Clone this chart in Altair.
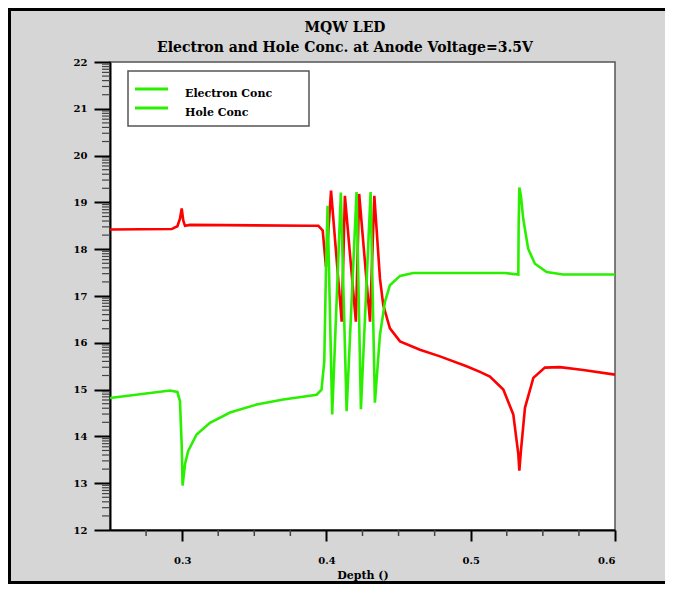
import math
import altair as alt
import pandas as pd

# ---- data ----
red_depth = [0.250, 0.2927, 0.2967, 0.2985, 0.2997, 0.3008, 0.3020, 0.3054, 0.3886, 0.3944,
             0.3974, 0.3997, 0.4032, 0.4106, 0.4128, 0.4204, 0.4227, 0.4302, 0.4332, 0.4371,
             0.4394, 0.4440, 0.4510, 0.4648, 0.4787, 0.4971, 0.5064, 0.5133, 0.5226, 0.5295,
             0.5330, 0.5337, 0.5348, 0.5376, 0.5434, 0.5514, 0.5618, 0.5780, 0.6000]
red_conc = [18.42, 18.43, 18.49, 18.65, 18.87, 18.61, 18.50, 18.52, 18.50, 18.50,
            18.40, 17.62, 19.25, 16.45, 19.14, 16.45, 19.18, 16.45, 19.14, 17.37,
            16.80, 16.31, 16.03, 15.85, 15.71, 15.50, 15.38, 15.28, 15.00, 14.47,
            13.62, 13.27, 13.69, 14.61, 15.25, 15.47, 15.48, 15.42, 15.32]

green_depth = [0.2500, 0.2916, 0.2967, 0.2985, 0.2997, 0.3003, 0.3020, 0.3042, 0.3100, 0.3193,
               0.3332, 0.3516, 0.3701, 0.3886, 0.3932, 0.3966, 0.3985, 0.3997, 0.4008, 0.4040,
               0.4100, 0.4140, 0.4209, 0.4239, 0.4306, 0.4336, 0.4371, 0.4406, 0.4440, 0.4510,
               0.4601, 0.5237, 0.5330, 0.5332, 0.5337, 0.5348, 0.5364, 0.5398, 0.5445, 0.5526,
               0.5641, 0.6000]
green_conc = [14.82, 14.98, 14.95, 14.75, 13.80, 12.95, 13.41, 13.69, 14.04, 14.29,
              14.51, 14.68, 14.79, 14.87, 14.89, 15.00, 15.60, 17.58, 18.93, 14.47,
              19.21, 14.54, 19.22, 14.58, 19.22, 14.72, 16.17, 16.88, 17.23, 17.43,
              17.49, 17.49, 17.46, 18.43, 19.32, 19.14, 18.65, 18.01, 17.69, 17.51,
              17.46, 17.46]

series_names = ["Hole Conc", "Electron Conc"]
series_colors = ["#ff0000", "#2af000"]
legend_labels = ["Electron Conc", "Hole Conc"]
legend_color = "#2af000"

title_lines = ["MQW LED", "Electron and Hole Conc. at Anode Voltage=3.5V"]
x_title = "Depth ()"
x_major = [0.3, 0.4, 0.5, 0.6]
x_minor = [0.275, 0.325, 0.35, 0.375, 0.425, 0.45, 0.475, 0.525, 0.55, 0.575]
y_major = [12, 13, 14, 15, 16, 17, 18, 19, 20, 21, 22]
y_minor = [d + math.log10(k) for d in range(12, 22) for k in range(2, 10)]

FONT = "DejaVu Serif"
W, H = 505, 468
PAD_L, PAD_T = 102, 54
TOTAL_W, TOTAL_H = 657, 576

df = pd.DataFrame({
    "depth": red_depth + green_depth,
    "conc": red_conc + green_conc,
    "series": [series_names[0]] * len(red_depth) + [series_names[1]] * len(green_depth),
})
one = pd.DataFrame({"a": [0]})

xs = alt.Scale(domain=[0.25, 0.6], nice=False, zero=False)
ys = alt.Scale(domain=[12, 22], nice=False, zero=False)

# outer frame: left, top and bottom edges (the right edge lies beyond the picture)
fx0, fx1 = -PAD_L + 1.5, TOTAL_W - PAD_L + 10
fy0, fy1 = -PAD_T + 1.5, TOTAL_H - PAD_T - 1.5
frame = [
    alt.Chart(one).mark_rule(color="black", strokeWidth=3).encode(
        x=alt.value(fx0), y=alt.value(fy0 - 1.5), y2=alt.value(fy1 + 1.5)),
    alt.Chart(one).mark_rule(color="black", strokeWidth=3).encode(
        x=alt.value(fx0 - 1.5), x2=alt.value(fx1), y=alt.value(fy0)),
    alt.Chart(one).mark_rule(color="black", strokeWidth=3).encode(
        x=alt.value(fx0 - 1.5), x2=alt.value(fx1), y=alt.value(fy1)),
]

lines = alt.Chart(df).mark_line(strokeWidth=2.6).encode(
    x=alt.X("depth:Q", scale=xs, axis=alt.Axis(
        values=x_major, format=".1f", tickSize=11, tickWidth=2, tickColor="black",
        domainColor="black", domainWidth=2, grid=False,
        labelFont=FONT, labelFontWeight="bold", labelFontSize=10, labelColor="black",
        labelPadding=14, title=x_title, titleFont=FONT, titleFontWeight="bold",
        titleFontSize=11, titleColor="black", titleY=45, titleBaseline="middle")),
    y=alt.Y("conc:Q", scale=ys, axis=alt.Axis(
        values=y_major, format="d", tickSize=16, tickWidth=2, tickColor="black",
        domainColor="black", domainWidth=2, grid=False,
        labelFont=FONT, labelFontWeight="bold", labelFontSize=10, labelColor="black",
        labelPadding=7, title=None)),
    color=alt.Color("series:N", scale=alt.Scale(domain=series_names, range=series_colors),
                    legend=None),
    detail="series:N",
    order=alt.Order("depth:Q"),
)

xminor = alt.Chart(pd.DataFrame({"depth": x_minor})).mark_rule(color="#444", strokeWidth=1.5).encode(
    x=alt.X("depth:Q", scale=xs), y=alt.value(H), y2=alt.value(H + 6))
yminor = alt.Chart(pd.DataFrame({"conc": y_minor})).mark_rule(color="#444", strokeWidth=1.2).encode(
    y=alt.Y("conc:Q", scale=ys), x=alt.value(-8), x2=alt.value(0))

titles = []
for i, t in enumerate(title_lines):
    titles.append(alt.Chart(one).mark_text(align="center", baseline="middle", font=FONT,
                                           fontWeight="bold", fontSize=14, color="black").encode(
        x=alt.value(235), y=alt.value(-34 + 20 * i), text=alt.value(t)))

legend_box = alt.Chart(one).mark_rect(fill="white", stroke="#555", strokeWidth=1.5).encode(
    x=alt.value(18), x2=alt.value(199), y=alt.value(9), y2=alt.value(64))
leg = []
for i, lab in enumerate(legend_labels):
    yy = 27 + 19 * i
    leg.append(alt.Chart(one).mark_rule(color=legend_color, strokeWidth=3).encode(
        x=alt.value(25), x2=alt.value(58), y=alt.value(yy)))
    leg.append(alt.Chart(one).mark_text(align="left", baseline="middle", font=FONT,
                                        fontWeight="bold", fontSize=11, color="black").encode(
        x=alt.value(75), y=alt.value(yy + 5), text=alt.value(lab)))

chart = alt.layer(*frame, *titles, lines, xminor, yminor, legend_box, *leg).properties(
    width=W, height=H,
    padding={"left": PAD_L, "top": PAD_T, "right": TOTAL_W - PAD_L - W,
             "bottom": TOTAL_H - PAD_T - H},
    autosize=alt.AutoSizeParams(type="none"),
    background="#d6d6d6",
).configure_view(stroke="#555", strokeWidth=1.5, fill="white")

chart.save("out.html", embed_options={"renderer": "svg", "actions": False})
